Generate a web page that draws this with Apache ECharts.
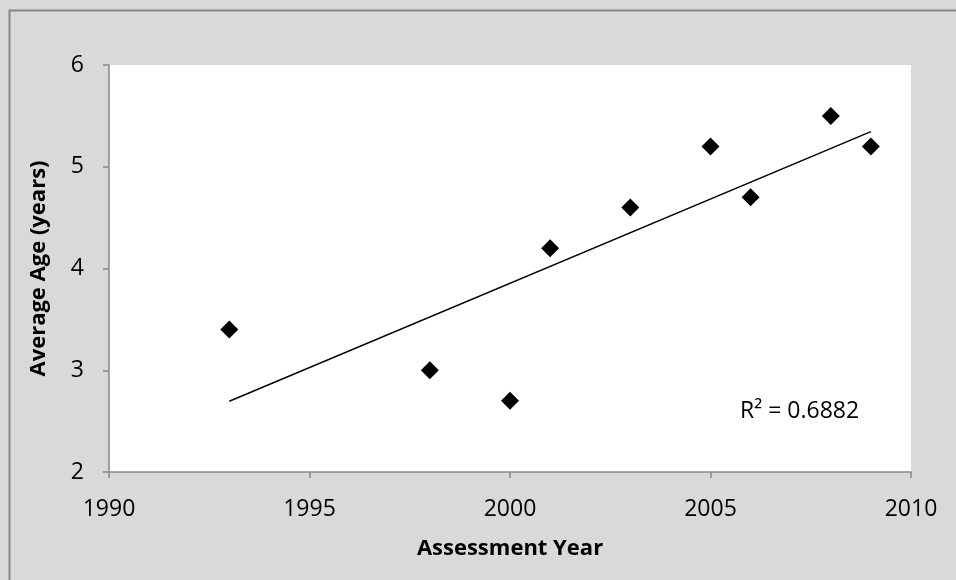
<!DOCTYPE html>
<html>
<head>
<meta charset="utf-8">
<script src="https://cdn.jsdelivr.net/npm/echarts@6/dist/echarts.min.js"></script>
<style>
html,body{margin:0;padding:0;background:#d9d9d9;}
#main{width:956px;height:580px;}
</style>
</head>
<body>
<div id="main"></div>
<script>
const years = [1993, 1998, 2000, 2001, 2003, 2005, 2006, 2008, 2009];
const ages  = [3.4, 3.0, 2.7, 4.2, 4.6, 5.2, 4.7, 5.5, 5.2];
const xTitle = 'Assessment Year';
const yTitle = 'Average Age (years)';
const r2Label = 'R² = 0.6882';

// least-squares linear trendline from the data
const n = years.length;
const mx = years.reduce((a, b) => a + b, 0) / n;
const my = ages.reduce((a, b) => a + b, 0) / n;
let sxy = 0, sxx = 0;
for (let i = 0; i < n; i++) { sxy += (years[i] - mx) * (ages[i] - my); sxx += (years[i] - mx) ** 2; }
const slope = sxy / sxx, icpt = my - slope * mx;
const xMin = Math.min(...years), xMax = Math.max(...years);
const trend = [[xMin, icpt + slope * xMin], [xMax, icpt + slope * xMax]];

const font = '"Open Sans", "Liberation Sans", sans-serif';
const axisColor = '#868686';
const chart = echarts.init(document.getElementById('main'));
chart.setOption({
  backgroundColor: '#d9d9d9',
  animation: false,
  textStyle: { fontFamily: font },
  grid: { left: 109, right: 45, top: 65, bottom: 108, show: true, backgroundColor: '#ffffff', borderWidth: 0 },
  xAxis: {
    type: 'value', min: 1990, max: 2010, interval: 5,
    name: xTitle, nameLocation: 'middle', nameGap: 66,
    nameTextStyle: { fontFamily: font, fontSize: 22, fontWeight: 'bold', color: '#000' },
    axisLine: { show: true, onZero: false, lineStyle: { color: axisColor, width: 1.5 } },
    axisTick: { show: true, inside: false, length: 6, lineStyle: { color: axisColor, width: 1.5 } },
    axisLabel: { fontFamily: font, fontSize: 23, color: '#000', margin: 26, formatter: v => String(v) },
    splitLine: { show: false }
  },
  yAxis: {
    type: 'value', min: 2, max: 6, interval: 1,
    name: yTitle, nameLocation: 'middle', nameGap: 59, nameRotate: 90,
    nameTextStyle: { fontFamily: font, fontSize: 22, fontWeight: 'bold', color: '#000' },
    axisLine: { show: true, onZero: false, lineStyle: { color: axisColor, width: 1.5 } },
    axisTick: { show: true, inside: false, length: 6, lineStyle: { color: axisColor, width: 1.5 } },
    axisLabel: { fontFamily: font, fontSize: 23, color: '#000', margin: 25 },
    splitLine: { show: false }
  },
  graphic: [
    { type: 'rect', left: 7, top: 8, silent: true, z: 100,
      shape: { width: 960, height: 580 },
      style: { fill: 'none', stroke: axisColor, lineWidth: 2 } },
    { type: 'text', left: 740, top: 400, z: 50,
      style: { text: r2Label, font: '23px ' + font, fill: '#000' } }
  ],
  series: [
    { type: 'scatter', data: years.map((y, i) => [y, ages[i]]),
      symbol: 'diamond', symbolSize: [18, 18], itemStyle: { color: '#000', opacity: 1 }, z: 3 },
    { type: 'line', data: trend, showSymbol: false, symbol: 'none',
      lineStyle: { color: '#000', width: 1.5 }, z: 2 }
  ]
});
</script>
</body>
</html>
